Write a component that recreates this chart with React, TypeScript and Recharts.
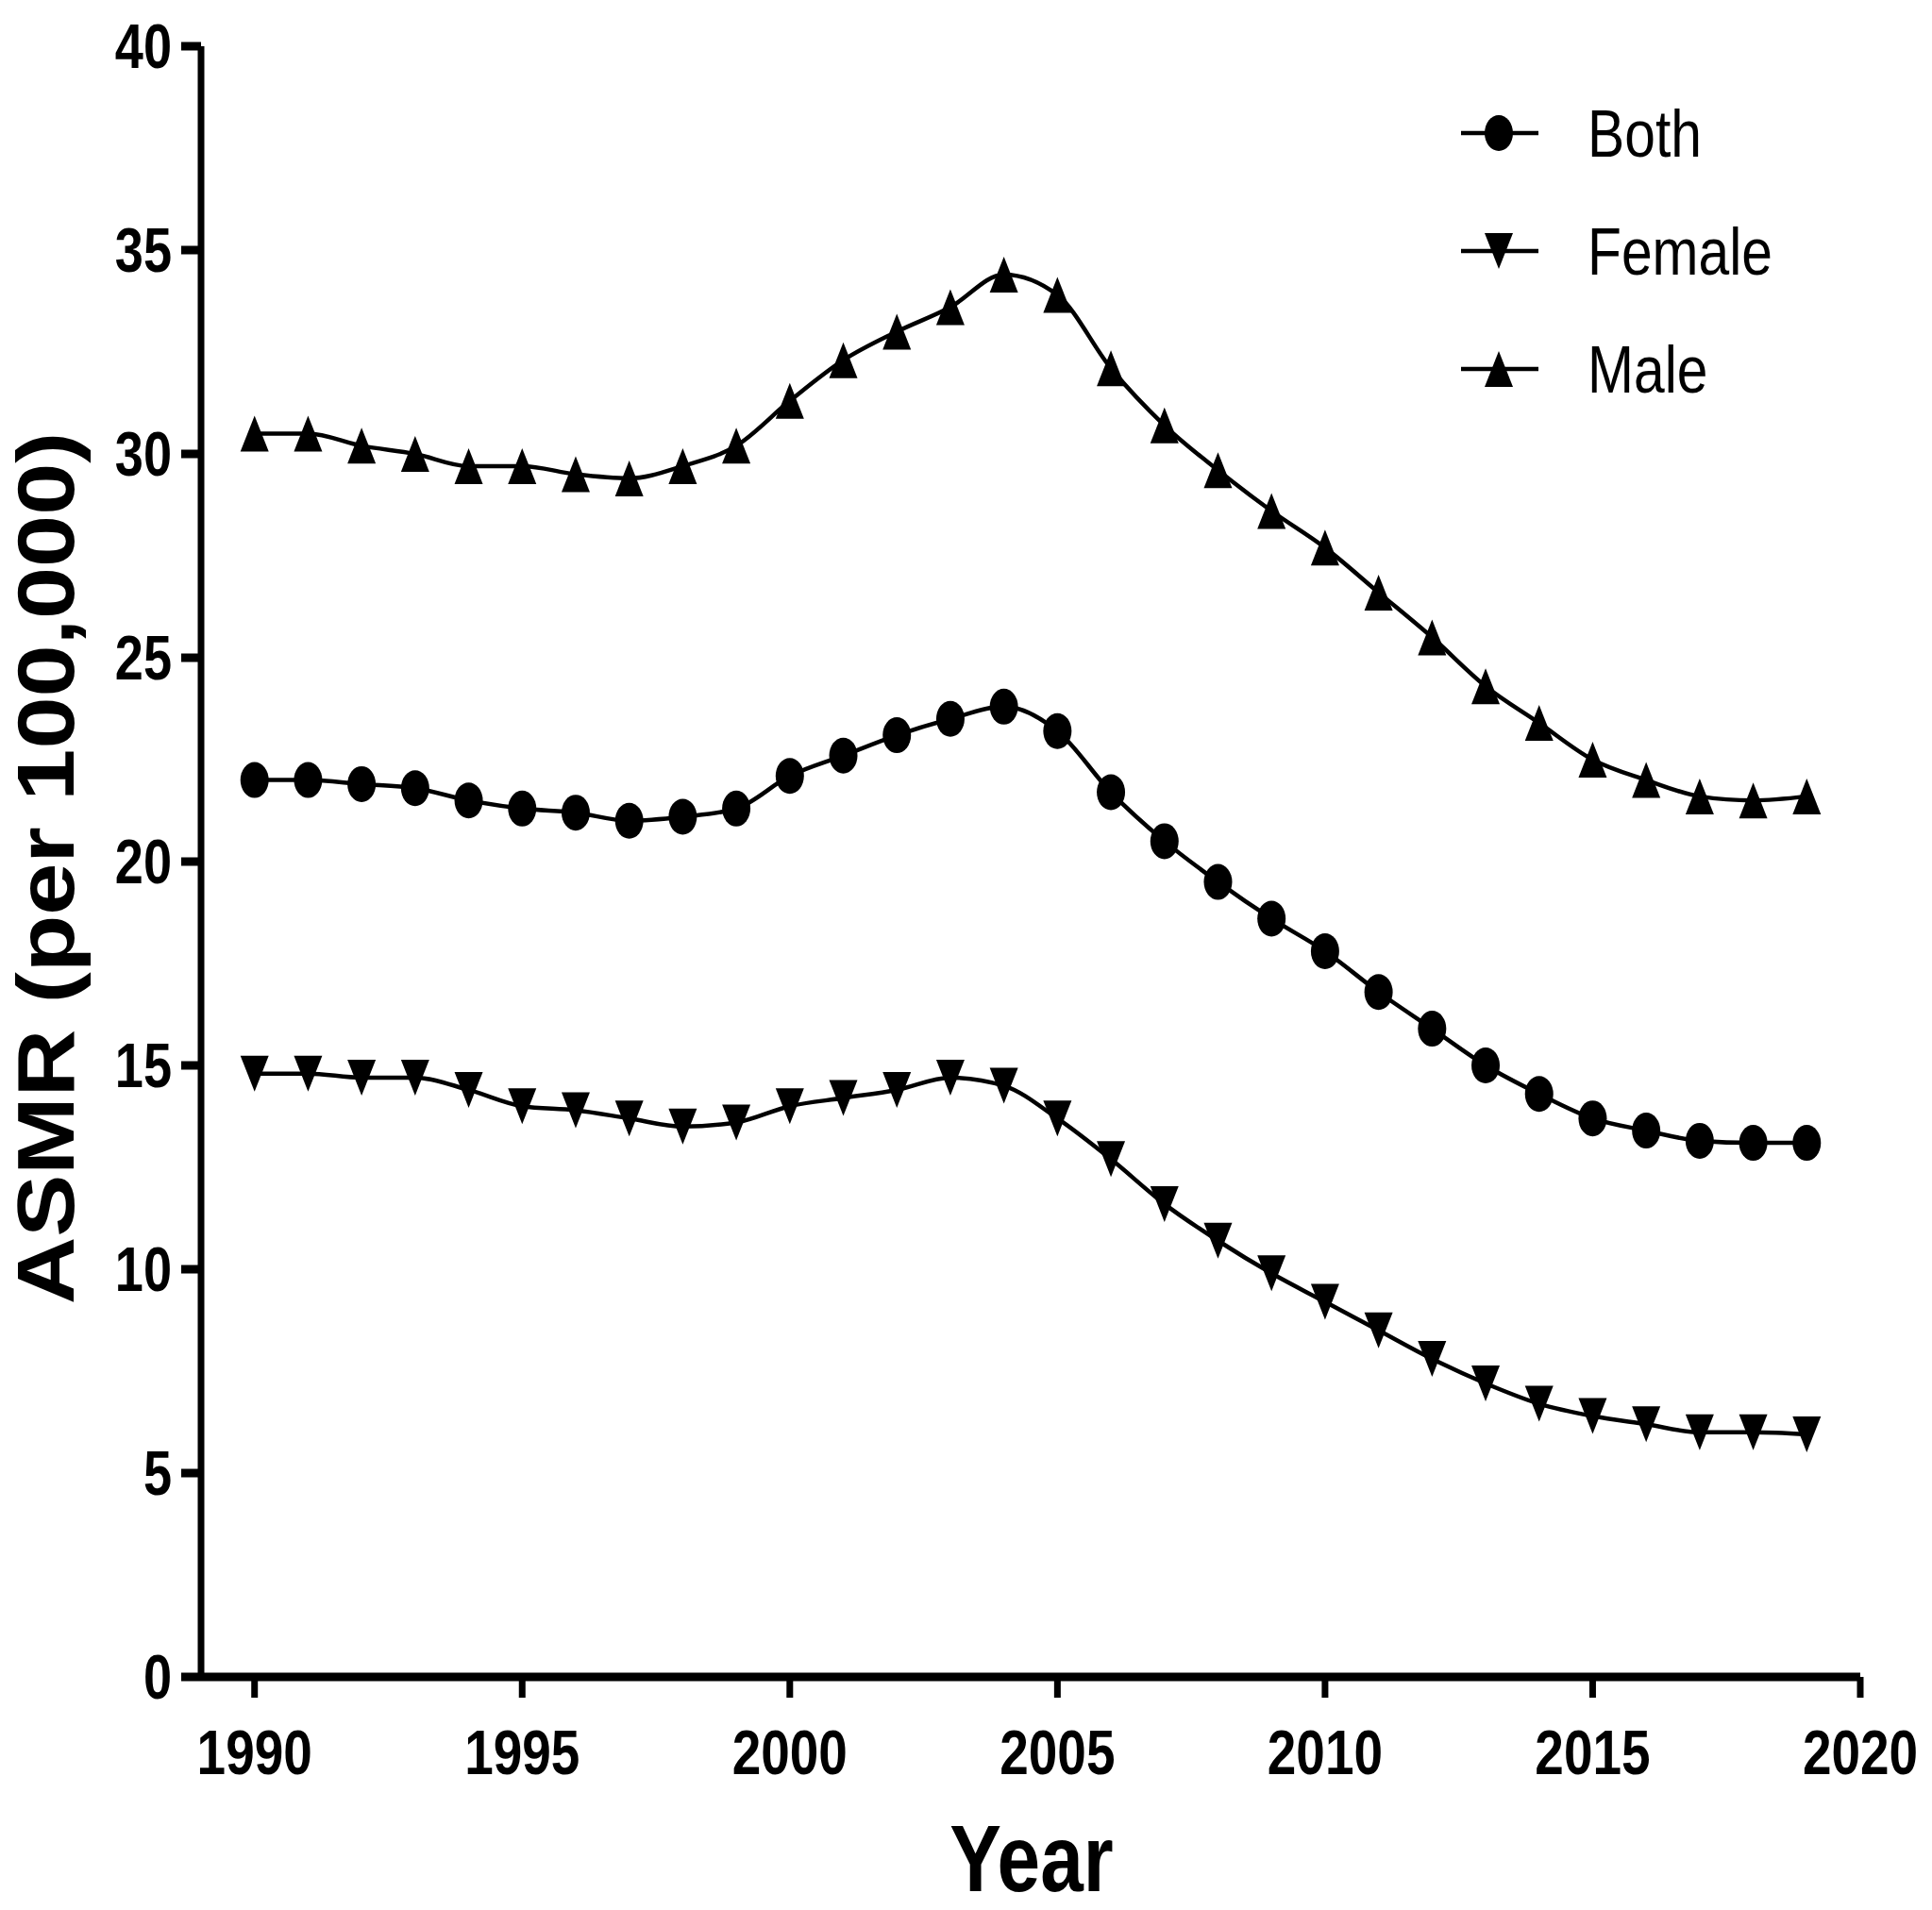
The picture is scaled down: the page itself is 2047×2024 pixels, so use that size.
import React from 'react';
import { LineChart, Line, XAxis, YAxis, Legend, Label } from 'recharts';

const years: number[] = [
  1990, 1991, 1992, 1993, 1994, 1995, 1996, 1997, 1998, 1999,
  2000, 2001, 2002, 2003, 2004, 2005, 2006, 2007, 2008, 2009,
  2010, 2011, 2012, 2013, 2014, 2015, 2016, 2017, 2018, 2019,
];
const bothValues: number[] = [
  22.0, 22.0, 21.9, 21.8, 21.5, 21.3, 21.2, 21.0, 21.1, 21.3,
  22.1, 22.6, 23.1, 23.5, 23.8, 23.2, 21.7, 20.5, 19.5, 18.6,
  17.8, 16.8, 15.9, 15.0, 14.3, 13.7, 13.4, 13.15, 13.1, 13.1,
];
const femaleValues: number[] = [
  14.8, 14.8, 14.7, 14.7, 14.4, 14.0, 13.9, 13.7, 13.5, 13.6,
  14.0, 14.2, 14.4, 14.7, 14.5, 13.7, 12.7, 11.6, 10.7, 9.9,
  9.2, 8.5, 7.8, 7.2, 6.7, 6.4, 6.2, 6.0, 6.0, 5.95,
];
const maleValues: number[] = [
  30.5, 30.5, 30.2, 30.0, 29.7, 29.7, 29.5, 29.4, 29.7, 30.2,
  31.3, 32.3, 33.0, 33.6, 34.4, 33.9, 32.1, 30.7, 29.6, 28.6,
  27.7, 26.6, 25.5, 24.3, 23.4, 22.5, 22.0, 21.6, 21.5, 21.6,
];
const xTicks: number[] = [1990, 1995, 2000, 2005, 2010, 2015, 2020];
const yTicks: number[] = [0, 5, 10, 15, 20, 25, 30, 35, 40];
const seriesNames: string[] = ['Both', 'Female', 'Male'];
const seriesKeys: string[] = ['both', 'female', 'male'];
const xDomain: [number, number] = [1989, 2020];
const yDomain: [number, number] = [0, 40];
const xTitle = 'Year';
const yTitle = 'ASMR (per 100,000)';

const data = years.map((year, i) => ({
  year,
  both: bothValues[i],
  female: femaleValues[i],
  male: maleValues[i],
}));

const FONT = '"Liberation Sans", Arial, Helvetica, sans-serif';
const SQ = 0.82; // horizontal squash of the reference image
const HW = 15; // marker half width
const HH = 19; // marker half height

type Shape = 'circle' | 'down' | 'up';
const shapes: Shape[] = ['circle', 'down', 'up'];

function marker(shape: Shape, cx: number, cy: number, key?: string) {
  if (shape === 'circle') {
    return <ellipse key={key} cx={cx} cy={cy} rx={HW} ry={HH} fill="#000" />;
  }
  if (shape === 'up') {
    const pts = `${cx},${cy - HH} ${cx + HW},${cy + HH} ${cx - HW},${cy + HH}`;
    return <polygon key={key} points={pts} fill="#000" />;
  }
  const pts = `${cx - HW},${cy - HH} ${cx + HW},${cy - HH} ${cx},${cy + HH}`;
  return <polygon key={key} points={pts} fill="#000" />;
}

const makeDot = (shape: Shape) => (p: any) => {
  if (p == null || p.cx == null || p.cy == null) return <g key={`e-${shape}-${p?.index}`} />;
  return marker(shape, p.cx, p.cy, `d-${shape}-${p.index}`);
};

const XTick = (p: any) => {
  const { x, y, payload } = p;
  return (
    <text
      transform={`translate(${x},${y + 79}) scale(${SQ},1)`}
      textAnchor="middle"
      fontSize={67}
      fontWeight="bold"
      fontFamily={FONT}
      fill="#000"
    >
      {payload.value}
    </text>
  );
};

const YTick = (p: any) => {
  const { x, y, payload } = p;
  return (
    <text
      transform={`translate(${x},${y + 23}) scale(${SQ},1)`}
      textAnchor="end"
      fontSize={66}
      fontWeight="bold"
      fontFamily={FONT}
      fill="#000"
    >
      {payload.value}
    </text>
  );
};

const YLabel = () => (
  <text
    transform={`translate(78,920) scale(0.86,1) rotate(-90)`}
    textAnchor="middle"
    fontSize={99}
    fontWeight="bold"
    fontFamily={FONT}
    fill="#000"
  >
    {yTitle}
  </text>
);

const XLabel = () => (
  <text
    transform={`translate(1093,2004) scale(${SQ},1)`}
    textAnchor="middle"
    fontSize={100}
    fontWeight="bold"
    fontFamily={FONT}
    fill="#000"
  >
    {xTitle}
  </text>
);

const LEG_ROWS = [61, 186, 311];

const LegendContent = () => (
  <svg width={520} height={380} style={{ display: 'block', overflow: 'visible' }}>
    {seriesNames.map((name, i) => {
      const cy = LEG_ROWS[i];
      return (
        <g key={name}>
          <line x1={18} x2={100} y1={cy} y2={cy} stroke="#000" strokeWidth={4.5} />
          {marker(shapes[i], 58, cy)}
          <text
            transform={`translate(152,${cy + 25}) scale(0.84,1)`}
            fontSize={70}
            fontFamily={FONT}
            fill="#000"
          >
            {name}
          </text>
        </g>
      );
    })}
  </svg>
);

export default function App() {
  return (
    <div style={{ position: 'absolute', left: 0, top: 0, width: 2047, height: 2024, background: '#fff' }}>
      <LineChart
        width={2047}
        height={2024}
        data={data}
        margin={{ top: 49, right: 76, bottom: 147, left: 113 }}
      >
        <XAxis
          type="number"
          dataKey="year"
          domain={xDomain}
          ticks={xTicks}
          interval={0}
          height={100}
          tickSize={22}
          tick={(p: any) => <XTick {...p} />}
          axisLine={{ stroke: '#000', strokeWidth: 9 }}
          tickLine={{ stroke: '#000', strokeWidth: 7 }}
        >
          <Label content={XLabel} />
        </XAxis>
        <YAxis
          type="number"
          domain={yDomain}
          ticks={yTicks}
          interval={0}
          width={100}
          tickSize={21}
          tickMargin={10}
          tick={(p: any) => <YTick {...p} />}
          axisLine={{ stroke: '#000', strokeWidth: 7 }}
          tickLine={{ stroke: '#000', strokeWidth: 9 }}
        >
          <Label content={YLabel} />
        </YAxis>
        <Legend
          layout="vertical"
          align="center"
          verticalAlign="middle"
          wrapperStyle={{ left: 1530, top: 80, width: 520, height: 380 }}
          content={LegendContent}
        />
        {seriesKeys.map((k, i) => (
          <Line
            key={k}
            dataKey={k}
            name={seriesNames[i]}
            type="monotone"
            stroke="#000"
            strokeWidth={4.5}
            dot={makeDot(shapes[i])}
            activeDot={false}
            isAnimationActive={false}
          />
        ))}
      </LineChart>
    </div>
  );
}
